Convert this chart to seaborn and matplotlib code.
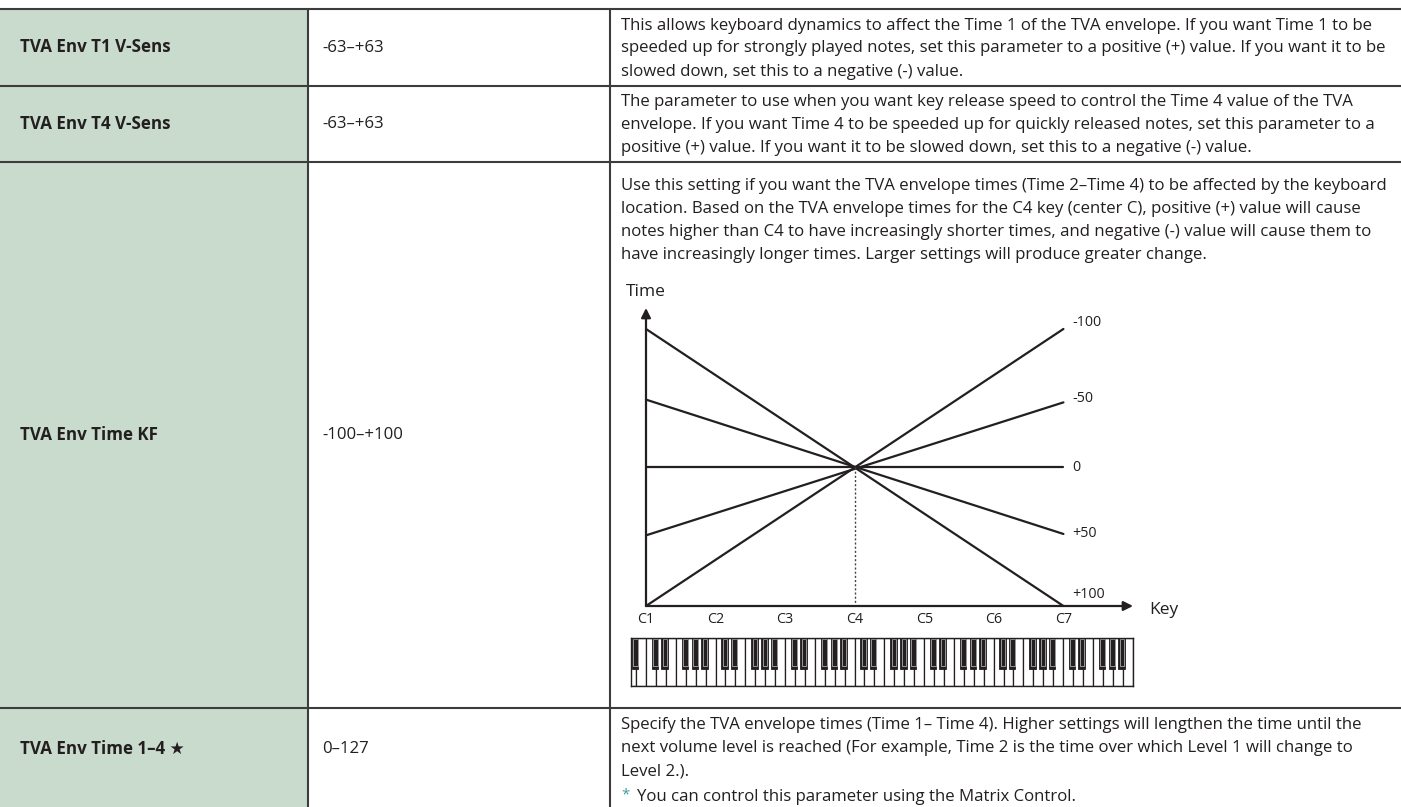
import matplotlib
matplotlib.use("Agg")
import matplotlib.pyplot as plt
import pandas as pd
import seaborn as sns

# --- Table content ---
param_names = ["TVA Env T1 V-Sens", "TVA Env T4 V-Sens", "TVA Env Time KF", "TVA Env Time 1\u20134 \u2605"]
param_ranges = ["-63\u2013+63", "-63\u2013+63", "-100\u2013+100", "0\u2013127"]

desc_t1 = [
    "This allows keyboard dynamics to affect the Time 1 of the TVA envelope. If you want Time 1 to be",
    "speeded up for strongly played notes, set this parameter to a positive (+) value. If you want it to be",
    "slowed down, set this to a negative (-) value.",
]
desc_t4 = [
    "The parameter to use when you want key release speed to control the Time 4 value of the TVA",
    "envelope. If you want Time 4 to be speeded up for quickly released notes, set this parameter to a",
    "positive (+) value. If you want it to be slowed down, set this to a negative (-) value.",
]
desc_kf = [
    "Use this setting if you want the TVA envelope times (Time 2\u2013Time 4) to be affected by the keyboard",
    "location. Based on the TVA envelope times for the C4 key (center C), positive (+) value will cause",
    "notes higher than C4 to have increasingly shorter times, and negative (-) value will cause them to",
    "have increasingly longer times. Larger settings will produce greater change.",
]
desc_time = [
    "Specify the TVA envelope times (Time 1\u2013 Time 4). Higher settings will lengthen the time until the",
    "next volume level is reached (For example, Time 2 is the time over which Level 1 will change to",
    "Level 2.).",
]
footnote = "You can control this parameter using the Matrix Control."

# --- Time KF diagram data ---
kf_labels = ["-100", "-50", "0", "+50", "+100"]
time_at_c1 = [-1.0, -0.49, 0.0, 0.49, 1.0]
time_at_c7 = [1.0, 0.47, 0.0, -0.48, -1.0]
key_names = ["C1", "C2", "C3", "C4", "C5", "C6", "C7"]
key_octaves = [1, 2, 3, 4, 5, 6, 7]

# keyboard drawing: white keys per octave and black key centres (white-key units from C)
white_per_octave = 7
black_key_centres = [0.91, 1.86, 3.93, 4.93, 5.89]
keyboard_octaves = [0, 1, 2, 3, 4, 5, 6, 7]

# --- Layout (pixels) ---
W, H = 1401, 807
row_y = [9, 86, 162, 708, H]
col_x = [0, 308, 610, W]
ink = "#231f20"
grid_col = "#3c3c3c"
green = "#c9dbcc"

sns.set_theme(style="white")
plt.rcParams["font.family"] = ["Open Sans", "DejaVu Sans"]

fig = plt.figure(figsize=(W / 100, H / 100), dpi=100)
bg = fig.add_axes([0, 0, 1, 1])
bg.set_xlim(0, W)
bg.set_ylim(H, 0)
bg.axis("off")

# size the body text so the longest line fills the description column
probe = bg.text(0, 0, desc_kf[0], fontsize=10)
fig.canvas.draw()
body_pt = 10 * 767 / probe.get_window_extent().width
probe.remove()

# green first column + grid lines
bg.fill_between([col_x[0], col_x[1]], row_y[0], H, color=green, lw=0)
bg.hlines(row_y[:4], 0, W, color=grid_col, lw=1.5)
bg.vlines(col_x[1:3], row_y[0], H, color=grid_col, lw=1.5)

# first two columns
for i, (name, rng) in enumerate(zip(param_names, param_ranges)):
    yc = (row_y[i] + row_y[i + 1]) / 2
    if i == 3:
        yc = 749
    bg.text(20, yc, name, fontsize=body_pt * 1.02, fontweight="bold", color=ink, va="center")
    bg.text(322, yc, rng, fontsize=body_pt, color=ink, va="center")

# descriptions
line_h = 23
tx = 621
for i, lines in enumerate([desc_t1, desc_t4]):
    yc = (row_y[i] + row_y[i + 1]) / 2 + 1
    for j, ln in enumerate(lines):
        bg.text(tx, yc + (j - 1) * line_h, ln, fontsize=body_pt, color=ink, va="center")
for j, ln in enumerate(desc_kf):
    bg.text(tx, 186 + j * line_h, ln, fontsize=body_pt, color=ink, va="center")
for j, ln in enumerate(desc_time):
    bg.text(tx, 725 + j * line_h, ln, fontsize=body_pt, color=ink, va="center")
bg.text(tx, 795, "*", fontsize=body_pt * 0.9, color="#3a9aa0", va="center")
bg.text(637, 797, footnote, fontsize=body_pt, color=ink, va="center")


def px_box(x0, x1, y_top, y_bot):
    return [x0 / W, 1 - y_bot / H, (x1 - x0) / W, (y_bot - y_top) / H]


# --- diagram ---
px_per_y = 138.75
y_top = 1 + (329 - 308) / px_per_y
ax = fig.add_axes(px_box(646, 1133, 308, 606))
ax.set_xlim(1, 8.0)
ax.set_ylim(-1, y_top)
ax.patch.set_alpha(0)
for s in ax.spines.values():
    s.set_visible(False)

lines_df = pd.DataFrame({
    "kf": kf_labels * 2,
    "key": [key_octaves[0]] * len(kf_labels) + [key_octaves[-1]] * len(kf_labels),
    "time": time_at_c1 + time_at_c7,
})
sns.lineplot(data=lines_df, x="key", y="time", units="kf", estimator=None,
             color=ink, lw=1.6, legend=False, ax=ax)
for ln in ax.lines:
    ln.set_clip_on(False)

ax.plot([4, 4], [0, -1], color="#444444", lw=1.0, ls=(0, (1.5, 1.5)))

arrow = dict(arrowstyle="-|>", color=ink, lw=1.6, mutation_scale=14, shrinkA=0, shrinkB=0)
ax.annotate("", xy=(8.0, -1), xytext=(1, -1), arrowprops=arrow, annotation_clip=False)
ax.annotate("", xy=(1, y_top), xytext=(1, -1), arrowprops=arrow, annotation_clip=False)

label_lift = [0.045, 0.03, 0.0, 0.0, 0.08]
for lab, yend, lift in zip(kf_labels, time_at_c7, label_lift):
    ax.text(7.13, yend + lift, lab, fontsize=10.3, color=ink, va="center", ha="left")

ax.text(1, 1 + (329 - 292) / px_per_y, "Time", fontsize=12.5, color=ink, ha="center", va="center")
ax.text(8.24, -1.03, "Key", fontsize=12.5, color=ink, ha="left", va="center")

ax.set_xticks(key_octaves, key_names)
ax.set_yticks([])
ax.tick_params(axis="x", length=0, pad=4, labelsize=10.3, labelcolor=ink)
ax.set_xlabel("")
ax.set_ylabel("")

# --- keyboard ---
kb = fig.add_axes(px_box(631, 1132.6, 638, 686))
kb.set_xlim(-1.51, 49.0)
kb.set_ylim(0, 1)
whites = [o * white_per_octave - white_per_octave + k for o in keyboard_octaves for k in range(white_per_octave)]
kb.bar(whites, 1, width=1, align="edge", color="white", edgecolor=ink, lw=0.9)
blacks = [o * white_per_octave - white_per_octave + c for o in keyboard_octaves for c in black_key_centres]
kb.bar(blacks, 0.64, bottom=0.36, width=0.68, color=ink, edgecolor=ink, lw=0.6)
kb.bar([b + 0.05 for b in blacks], 0.57, bottom=0.41, width=0.46, color=ink, edgecolor="#c8c8c8", lw=0.5)
kb.set_xticks([])
kb.set_yticks([])
for s in kb.spines.values():
    s.set_color(ink)
    s.set_linewidth(1.0)

fig.savefig("out.png", dpi=100)
